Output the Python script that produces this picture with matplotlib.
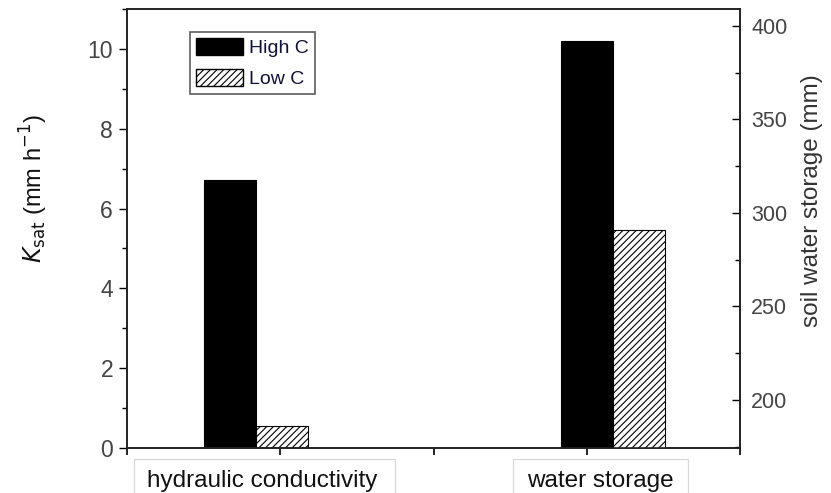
import matplotlib.pyplot as plt
from matplotlib.patches import Patch, Rectangle
from matplotlib.ticker import MultipleLocator

plt.rcParams['font.family'] = ['Liberation Sans', 'DejaVu Sans']
plt.rcParams['hatch.linewidth'] = 0.8

# data
groups = ['hydraulic conductivity', 'water storage']
series = ['High C', 'Low C']
ksat = [6.72, 0.55]          # mm h-1, High C / Low C
storage = [392, 291]         # mm, High C / Low C

W, H = 831, 493
fig = plt.figure(figsize=(W / 100, H / 100), dpi=100)
ax = fig.add_axes([127 / W, 1 - 448 / H, 613 / W, 439 / H])
ax2 = ax.twinx()

w = 0.34
centers = [0.84, 3.17]

# K_sat pair on the left axis
ax.bar(centers[0] - w / 2, ksat[0], w, color='black', edgecolor='black', linewidth=0.8)
ax.bar(centers[0] + w / 2, ksat[1], w, color='white', edgecolor='black', hatch='/////', linewidth=0.8)
# storage pair on the right axis
ax2.bar(centers[1] - w / 2, storage[0], w, color='black', edgecolor='black', linewidth=0.8)
ax2.bar(centers[1] + w / 2, storage[1], w, color='white', edgecolor='black', hatch='/////', linewidth=0.8)

ax.set_xlim(0, 4)
ax.set_ylim(0, 11)
ax2.set_ylim(174.3, 409)

ax.set_xticks([0, 1, 2, 3, 4])
ax.set_xticklabels([])
ax.yaxis.set_major_locator(MultipleLocator(2))
ax.yaxis.set_minor_locator(MultipleLocator(1))
ax2.yaxis.set_major_locator(MultipleLocator(50))
ax2.yaxis.set_minor_locator(MultipleLocator(25))

tc = '#444444'
ax.tick_params(axis='y', which='major', direction='out', length=6, width=1,
               labelsize=16.5, labelcolor=tc, pad=4)
ax.tick_params(axis='y', which='minor', direction='out', length=3.5, width=1)
ax.tick_params(axis='x', which='major', direction='out', length=5, width=1.2, top=False)
ax2.tick_params(axis='y', which='major', direction='in', length=6, width=1,
                labelsize=15.5, labelcolor=tc, pad=8)
ax2.tick_params(axis='y', which='minor', direction='in', length=3.5, width=1)

for a in (ax, ax2):
    for s in a.spines.values():
        s.set_linewidth(1.2)
        s.set_color('#222222')

ax.set_ylabel(r'$K$$_{\mathrm{sat}}$ (mm h$^{\mathrm{-1}}$)', fontsize=17, color='#111111')
ax.yaxis.set_label_coords(-0.125, 0.59)
ax2.set_ylabel('soil water storage (mm)', fontsize=17.5, color='#333333')
ax2.yaxis.set_label_coords(1.10, 0.563)

# category names in light boxes under the axis (box bottom runs off the figure)
boxes = [(134, 395, 147), (513, 688, 527)]
for (x0, x1, tx), name in zip(boxes, groups):
    fig.add_artist(Rectangle((x0 / W, 1 - 510 / H), (x1 - x0) / W, 51 / H,
                             transform=fig.transFigure, facecolor='white',
                             edgecolor='#d8d8d8', linewidth=0.9, clip_on=False))
    fig.text(tx / W, 1 - 487 / H, name, fontsize=17.5, color='#111111',
             va='baseline', ha='left')

handles = [Patch(facecolor='black', edgecolor='black'),
           Patch(facecolor='white', edgecolor='black', hatch='/////')]
leg = ax.legend(handles, series, loc='upper left', bbox_to_anchor=(0.103, 0.948),
                borderaxespad=0, fontsize=14, frameon=True, fancybox=False,
                edgecolor='#333333', handlelength=2.4, handleheight=1.0,
                handletextpad=0.35, borderpad=0.3, labelspacing=0.6)
leg.get_frame().set_linewidth(1.2)
for t in leg.get_texts():
    t.set_color('#111133')

fig.savefig('out.png', dpi=100)
